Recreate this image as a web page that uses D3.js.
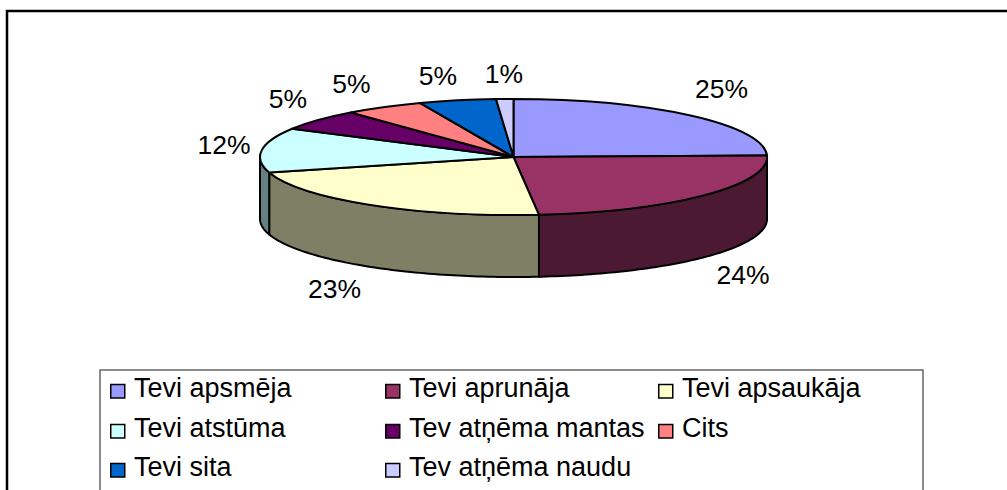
<!DOCTYPE html>
<html>
<head>
<meta charset="utf-8">
<script src="https://cdn.jsdelivr.net/npm/d3@7"></script>
<style>
  html, body { margin: 0; padding: 0; background: #fff; overflow: hidden; }
  text { font-family: "Liberation Sans", Arial, sans-serif; fill: #000; }
</style>
</head>
<body>
<div id="chart"></div>
<script>
var categories = ["Tevi apsmēja", "Tevi aprunāja", "Tevi apsaukāja", "Tevi atstūma",
  "Tev atņēma mantas", "Cits", "Tevi sita", "Tev atņēma naudu"];
// slice shares, the labels are the rounded ones printed on it
var values = [24.6, 23.8, 22.3, 12.4, 5.8, 5.1, 4.9, 1.1];
var percentLabels = ["25%", "24%", "23%", "12%", "5%", "5%", "5%", "1%"];
var topColors = ["#9999ff", "#993366", "#ffffcc", "#ccffff", "#660066", "#ff8080", "#0066cc", "#ccccff"];
var sideColors = ["#4c4c7f", "#4c1933", "#7f7f66", "#667f7f", "#330033", "#7f4040", "#003366", "#66667f"];

var width = 1007;
var height = 490;
var pie_box = { "cx": 513.5, "cy": 157, "rx": 253.5, "ry": 58, "depth": 62 };
var label_size = 26.5;
var legend_size = 27;

// label anchors: middle x, baseline y
var label_anchors = [[721.5, 98], [743, 284], [334.5, 298], [224, 154],
  [288, 108], [351.5, 93], [438, 85], [504, 83]];

var legend_box = { "left": 100, "top": 370, "right": 923 };
var legend_cols = [110, 385, 658];
var legend_rows = [397, 437, 476];

var svg = d3.select("#chart")
    .append("svg")
    .attr("width", width)
    .attr("height", height)
    .style("display", "block");

// outer frame, only top and left are in the crop
svg.append("path")
  .attr("d", d3.line()([[7, height], [7, 11], [width, 11]]))
  .attr("fill", "none")
  .attr("stroke", "#000")
  .attr("stroke-width", 2.5);

var x_scale = d3.scaleLinear()
    .domain([-1, 1])
    .range([pie_box.cx - pie_box.rx, pie_box.cx + pie_box.rx]);
var y_scale = d3.scaleLinear()
    .domain([-1, 1])
    .range([pie_box.cy - pie_box.ry, pie_box.cy + pie_box.ry]);

var slices = d3.pie().sort(null)(values);

// walls, only the part of a slice in the front half is seen
var wall = d3.area()
    .x(function(a) { return x_scale(Math.sin(a)); })
    .y0(function(a) { return y_scale(-Math.cos(a)); })
    .y1(function(a) { return y_scale(-Math.cos(a)) + pie_box.depth; });

function wall_angles(d) {
  var a0 = Math.max(d.startAngle, Math.PI / 2);
  var a1 = Math.min(d.endAngle, Math.PI * 1.5);
  if (a1 <= a0) return null;
  var steps = d3.range(a0, a1, 0.02);
  steps.push(a1);
  return steps;
}

svg.selectAll(".wall")
  .data(slices.filter(function(d) { return wall_angles(d) !== null; }))
  .enter()
  .append("path")
  .attr("class", "wall")
  .attr("d", function(d) { return wall(wall_angles(d)); })
  .attr("fill", function(d) { return sideColors[d.index]; })
  .attr("stroke", "#000")
  .attr("stroke-width", 2)
  .attr("stroke-linejoin", "round");

// top face: unit circle squashed with a transform
var arc = d3.arc().innerRadius(0).outerRadius(1);

svg.append("g")
  .attr("transform", "translate(" + pie_box.cx + "," + pie_box.cy + ") scale(" + pie_box.rx + "," + pie_box.ry + ")")
  .selectAll(".slice")
  .data(slices)
  .enter()
  .append("path")
  .attr("class", "slice")
  .attr("d", arc)
  .attr("fill", function(d) { return topColors[d.index]; })
  .attr("stroke", "#000")
  .attr("stroke-width", 2)
  .attr("stroke-linejoin", "round")
  .attr("vector-effect", "non-scaling-stroke");

svg.selectAll(".pct")
  .data(percentLabels)
  .enter()
  .append("text")
  .attr("class", "pct")
  .attr("x", function(d, i) { return label_anchors[i][0]; })
  .attr("y", function(d, i) { return label_anchors[i][1]; })
  .attr("text-anchor", "middle")
  .attr("font-size", label_size)
  .text(function(d) { return d; });

// legend box runs off the bottom of the crop
svg.append("path")
  .attr("d", d3.line()([[legend_box.left, height], [legend_box.left, legend_box.top],
    [legend_box.right, legend_box.top], [legend_box.right, height]]))
  .attr("fill", "none")
  .attr("stroke", "#666")
  .attr("stroke-width", 1.5);

var legend = svg.selectAll(".legend")
  .data(categories)
  .enter()
  .append("g")
  .attr("class", "legend")
  .attr("transform", function(d, i) {
    return "translate(" + legend_cols[i % 3] + "," + legend_rows[Math.floor(i / 3)] + ")";
  });

legend.append("rect")
  .attr("x", 0.75)
  .attr("y", -12.5)
  .attr("width", 14)
  .attr("height", 13.5)
  .attr("fill", function(d, i) { return topColors[i]; })
  .attr("stroke", "#000")
  .attr("stroke-width", 1.5);

legend.append("text")
  .attr("x", 24)
  .attr("font-size", legend_size)
  .text(function(d) { return d; });
</script>
</body>
</html>
